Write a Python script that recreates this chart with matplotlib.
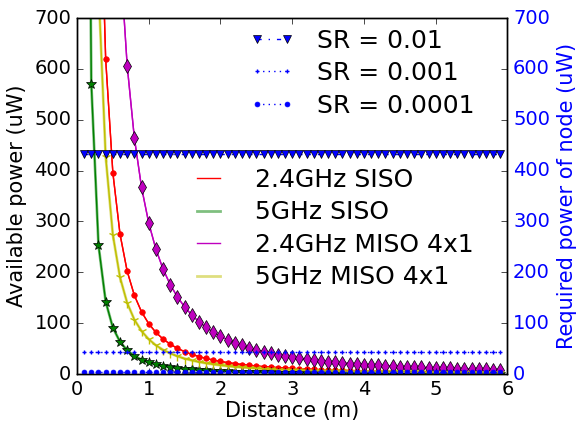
import numpy as np
import matplotlib
matplotlib.use("Agg")
import matplotlib.pyplot as plt

# distance grid (m)
distance = [0.1, 0.2, 0.3, 0.4, 0.5, 0.6, 0.7, 0.8, 0.9, 1.0,
            1.1, 1.2, 1.3, 1.4, 1.5, 1.6, 1.7, 1.8, 1.9, 2.0,
            2.1, 2.2, 2.3, 2.4, 2.5, 2.6, 2.7, 2.8, 2.9, 3.0,
            3.1, 3.2, 3.3, 3.4, 3.5, 3.6, 3.7, 3.8, 3.9, 4.0,
            4.1, 4.2, 4.3, 4.4, 4.5, 4.6, 4.7, 4.8, 4.9, 5.0,
            5.1, 5.2, 5.3, 5.4, 5.5, 5.6, 5.7, 5.8, 5.9]

# available power (uW)
siso_24 = [9900, 2475, 1100, 619, 396, 275, 202, 154.7, 122.2, 99,
           81.8, 68.8, 58.6, 50.5, 44.0, 38.7, 34.3, 30.6, 27.4, 24.8,
           22.4, 20.5, 18.7, 17.2, 15.8, 14.6, 13.6, 12.6, 11.8, 11.0,
           10.3, 9.7, 9.1, 8.6, 8.1, 7.6, 7.2, 6.9, 6.5, 6.2,
           5.9, 5.6, 5.4, 5.1, 4.9, 4.7, 4.5, 4.3, 4.1, 4.0,
           3.8, 3.7, 3.5, 3.4, 3.3, 3.2, 3.0, 2.9, 2.8]
siso_5 = [2280, 570, 253.3, 142.5, 91.2, 63.3, 46.5, 35.6, 28.1, 22.8,
          18.8, 15.8, 13.5, 11.6, 10.1, 8.9, 7.9, 7.0, 6.3, 5.7,
          5.2, 4.7, 4.3, 4.0, 3.6, 3.4, 3.1, 2.9, 2.7, 2.5,
          2.4, 2.2, 2.1, 2.0, 1.9, 1.8, 1.7, 1.6, 1.5, 1.4,
          1.4, 1.3, 1.2, 1.2, 1.1, 1.1, 1.0, 1.0, 0.9, 0.9,
          0.9, 0.8, 0.8, 0.8, 0.8, 0.7, 0.7, 0.7, 0.7]
miso_24 = [29700, 7425, 3300, 1856, 1188, 825, 606, 464, 367, 297,
           245.5, 206.3, 175.7, 151.5, 132, 116, 102.8, 91.7, 82.3, 74.3,
           67.3, 61.4, 56.1, 51.6, 47.5, 43.9, 40.7, 37.9, 35.3, 33.0,
           30.9, 29.0, 27.3, 25.7, 24.2, 22.9, 21.7, 20.6, 19.5, 18.6,
           17.7, 16.8, 16.1, 15.3, 14.7, 14.0, 13.4, 12.9, 12.4, 11.9,
           11.4, 11.0, 10.6, 10.2, 9.8, 9.5, 9.1, 8.8, 8.5]
miso_5 = [6840, 1710, 760, 427.5, 273.6, 190, 139.6, 106.9, 84.4, 68.4,
          56.5, 47.5, 40.5, 34.9, 30.4, 26.7, 23.7, 21.1, 18.9, 17.1,
          15.5, 14.1, 12.9, 11.9, 10.9, 10.1, 9.4, 8.7, 8.1, 7.6,
          7.1, 6.7, 6.3, 5.9, 5.6, 5.3, 5.0, 4.7, 4.5, 4.3,
          4.1, 3.9, 3.7, 3.5, 3.4, 3.2, 3.1, 3.0, 2.8, 2.7,
          2.6, 2.5, 2.4, 2.3, 2.3, 2.2, 2.1, 2.0, 2.0]

# required power of node (uW) for each sampling rate
sr_labels = ["SR = 0.01", "SR = 0.001", "SR = 0.0001"]
sr_power = [432, 43.2, 4.32]

plt.style.use("classic")

fig, ax = plt.subplots(figsize=(5.77, 4.23), dpi=100)
fig.subplots_adjust(left=0.1334, right=0.8795, top=0.9574, bottom=0.1158)

d = np.array(distance)

# labelled lines (legend handles)
ax.plot(d, siso_24, color="r", lw=1, label="2.4GHz SISO")
ax.plot(d, siso_5, color="g", lw=2, alpha=0.5, label="5GHz SISO")
ax.plot(d, miso_24, color="m", lw=1, label="2.4GHz MISO 4x1")
ax.plot(d, miso_5, color="y", lw=2, alpha=0.5, label="5GHz MISO 4x1")

# marker curves
ax.plot(d, siso_24, color="r", lw=1, marker="o", ms=4, mec="r")
ax.plot(d, siso_5, color="g", lw=1, marker="*", ms=7, mfc="g", mec="k")
ax.plot(d, miso_24, color="m", lw=1, marker="d", ms=7, mfc="m", mec="k")
ax.plot(d, miso_5, color="y", lw=1, marker="1", ms=7, mec="y", mew=1)

ax.set_xlim(0, 6)
ax.set_ylim(0, 700)
ax.set_xlabel("Distance (m)", fontsize=15, labelpad=2)
ax.set_ylabel("Available power (uW)", fontsize=15)
ax.tick_params(labelsize=14)

ax.legend(loc="upper left", bbox_to_anchor=(0.2625, 0.579),
          frameon=False, fontsize=18, borderpad=0, borderaxespad=0,
          handlelength=1.5, handletextpad=1.1, labelspacing=0.34)

ax2 = ax.twinx()
ax2.plot(d, np.full(len(d), sr_power[0]), color="b", ls="-.", marker="v",
         ms=5.5, mfc="b", mec="k", label=sr_labels[0])
ax2.plot(d, np.full(len(d), sr_power[1]), color="b", ls=":", marker="+",
         ms=3, mec="b", mew=1, label=sr_labels[1])
ax2.plot(d, np.full(len(d), sr_power[2]), color="b", ls=":", marker="o",
         ms=3.5, mfc="b", mec="b", label=sr_labels[2])
ax2.set_ylim(0, 700)
ax2.set_xlim(0, 6)
ax2.set_ylabel("Required power of node (uW)", fontsize=15, color="b")
ax2.tick_params(labelsize=14, labelcolor="b")

ax2.legend(loc="upper left", bbox_to_anchor=(0.40, 0.970),
           frameon=False, fontsize=18, borderpad=0, borderaxespad=0,
           handlelength=1.8, handletextpad=0.9, labelspacing=0.34)

fig.savefig("out.png", dpi=100, facecolor="white")
